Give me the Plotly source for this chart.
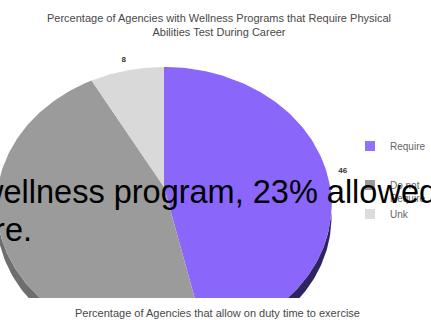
import numpy as np
import plotly.graph_objects as go

# ---------------- data ----------------
categories = ["Require", "Do not<br>Require", "Unk"]
values = [46, 45, 8]
face_colors = ["#8a66fb", "#9b9b9b", "#d9d9d9"]
side_colors = ["#2e2560", "#6e6e6e", "#a8a8a8"]
legend_colors = ["#8f72f7", "#9a9a9a", "#dcdcdc"]

title_text = ("Percentage of Agencies with Wellness Programs that Require Physical"
              "<br>Abilities Test During Career")
bottom_text = "Percentage of Agencies that allow on duty time to exercise"
overlay_line1 = "wellness program, 23% allowed"
overlay_line2 = "ure."

FONT = "Liberation Sans, Arial, sans-serif"
W, H = 431, 320
MB = 22                      # bottom margin -> plot area 0..298 px
PH = H - MB
CX, CY = 164, 187            # projected pie centre in px (from top-left)

# ---------------- 3D pie projection geometry ----------------
FOC = 734.0
DIST = 4.42
PHI = np.radians(54.8)
SIDE_PX = 12.0               # visible thickness of the pie edge (px)


def project(theta_deg, r=1.0):
    th = np.radians(theta_deg)
    x = r * np.sin(th)
    z = r * np.cos(th)
    depth = DIST + z * np.cos(PHI)
    sx = FOC * x / depth
    sy = FOC * (z * np.sin(PHI)) / depth
    return sx, sy


total = float(sum(values))
ends = np.cumsum(values) / total * 360.0
starts = np.concatenate([[0.0], ends[:-1]])

fig = go.Figure()

# sides (extrusion) first
for a0, a1, col in zip(starts, ends, side_colors):
    lo, hi = max(a0, 90.0), min(a1, 270.0)
    if lo >= hi:
        continue
    th = np.linspace(lo, hi, 80)
    tx, ty = project(th)
    xs = np.concatenate([tx, tx[::-1], tx[:1]])
    ys = np.concatenate([ty, ty[::-1] - SIDE_PX, ty[:1]])
    fig.add_trace(go.Scatter(x=xs, y=ys, mode="lines", fill="toself",
                             fillcolor=col, line=dict(width=0, color=col),
                             hoverinfo="skip", showlegend=False))

# top faces
for a0, a1, col in zip(starts, ends, face_colors):
    th = np.linspace(a0, a1, 160)
    ax_, ay_ = project(th)
    xs = np.concatenate([[0.0], ax_, [0.0]])
    ys = np.concatenate([[0.0], ay_, [0.0]])
    fig.add_trace(go.Scatter(x=xs, y=ys, mode="lines", fill="toself",
                             fillcolor=col, line=dict(width=0, color=col),
                             hoverinfo="skip", showlegend=False))

# value labels
mids = (starts + ends) / 2.0
lx, ly = project(mids, 1.1)
fig.add_trace(go.Scatter(x=lx, y=ly, mode="text",
                         text=[str(v) for v in values],
                         textfont=dict(family=FONT, size=8, color="#333333", weight="bold"),
                         hoverinfo="skip", showlegend=False, cliponaxis=False))

# legend entries (one legend each, for exact vertical placement)
leg_names = ["legend", "legend2", "legend3"]
for name, col, lg in zip(categories, legend_colors, leg_names):
    fig.add_trace(go.Scatter(x=[None], y=[None], mode="markers", name=name,
                             marker=dict(symbol="square", size=10, color=col),
                             legend=lg))

leg_font = dict(family=FONT, size=10, color="#666666")
LX = 350 / W

fig.update_layout(
    width=W, height=H,
    margin=dict(l=0, r=0, t=0, b=MB, pad=0),
    paper_bgcolor="white", plot_bgcolor="white",
    xaxis=dict(range=[-CX, W - CX], visible=False, fixedrange=True),
    yaxis=dict(range=[-(PH - CY), CY], visible=False, fixedrange=True),
    title=dict(text=title_text, x=219 / W, xanchor="center",
               y=1 - 21.5 / H, yanchor="middle", yref="container",
               font=dict(family=FONT, size=11, color="#484848")),
    legend=dict(x=LX, y=(PH - 146) / PH, xanchor="left", yanchor="middle",
                font=leg_font, bgcolor="rgba(0,0,0,0)", borderwidth=0),
    legend2=dict(x=LX, y=(PH - 172) / PH, xanchor="left", yanchor="top",
                 valign="top", font=leg_font, bgcolor="rgba(0,0,0,0)", borderwidth=0),
    legend3=dict(x=LX, y=(PH - 214) / PH, xanchor="left", yanchor="middle",
                 font=leg_font, bgcolor="rgba(0,0,0,0)", borderwidth=0),
    annotations=[
        dict(text=bottom_text, xref="paper", yref="paper", x=217 / W,
             y=(PH - 313) / PH, xanchor="center", yanchor="middle",
             showarrow=False, font=dict(family=FONT, size=11, color="#484848")),
        dict(text=overlay_line1, xref="paper", yref="paper", x=-23 / W,
             y=(PH - 192) / PH, xanchor="left", yanchor="middle",
             showarrow=False, font=dict(family=FONT, size=32.5, color="black")),
        dict(text=overlay_line2, xref="paper", yref="paper", x=-26 / W,
             y=(PH - 230) / PH, xanchor="left", yanchor="middle",
             showarrow=False, font=dict(family=FONT, size=32.5, color="black")),
    ],
)

fig.write_html("out.html")
